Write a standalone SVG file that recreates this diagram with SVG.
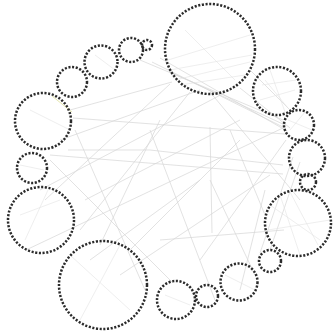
<svg xmlns="http://www.w3.org/2000/svg" width="335" height="332" viewBox="0 0 335 332">
<style>
.e{stroke:#d6d6d6;stroke-width:0.7;fill:none}
.i{stroke:#e2e2e2;stroke-width:0.6;fill:none}
.c{fill:none;stroke:#2b2b2b;stroke-width:2.5;stroke-dasharray:2.1 1.6}
</style>
<rect width="335" height="332" fill="#ffffff"/>
<g id="connectors">
<path class="e" d="M152,62L285,128M160,58L287,131M170,72L285,125M240,88L290,128M50,155L283,174M70,110L172,82M60,140L200,90M45,200L170,84M73,118L285,134M50,160L173,283M210,127L212,233M293,157L260,253M300,162L270,250M26,250L285,127M90,260L200,180M130,250L240,140M210,180L255,275M100,245L160,120M75,130L145,290M190,92L80,230M210,92L300,200M250,70L290,110M230,130L265,215M140,60L283,120M68,150L150,150L283,165M120,275L270,175M160,240L284,230M200,260L286,140M40,190L230,90M240,290L265,190M150,130L215,300M85,200L240,120"/>
<path class="i" d="M168,60L250,35M170,70L252,55M175,80L250,62M180,85L245,75M185,30L235,80M262,85L296,80M265,80L288,108M260,100L295,90M270,70L285,112M270,205L320,240M268,230L330,220M280,195L300,255M290,192L318,245M70,255L130,310M80,320L120,245M20,215L60,200M25,240L48,190M288,120L312,130M290,130L305,112M225,275L255,290M165,295L190,305M30,110L70,130M20,165L44,170M95,55L115,70"/>
<path d="M52,96L72,112" stroke="#e6e8b0" stroke-width="1" fill="none"/>
</g>
<g id="n1"><circle class="c" cx="210" cy="49" r="45"/></g>
<g id="n2"><circle class="c" cx="131" cy="50" r="12"/></g>
<g id="n3"><circle class="c" cx="147" cy="45" r="5"/></g>
<g id="n4"><circle class="c" cx="101" cy="62" r="16.5"/></g>
<g id="n5"><circle class="c" cx="72" cy="82" r="15"/></g>
<g id="n6"><circle class="c" cx="43" cy="121" r="28"/></g>
<g id="n7"><circle class="c" cx="32" cy="168" r="15"/></g>
<g id="n8"><circle class="c" cx="41" cy="220" r="33"/></g>
<g id="n9"><circle class="c" cx="103" cy="285" r="44"/></g>
<g id="n10"><circle class="c" cx="176" cy="300" r="19"/></g>
<g id="n11"><circle class="c" cx="207" cy="296" r="11"/></g>
<g id="n12"><circle class="c" cx="239" cy="282" r="18.5"/></g>
<g id="n13"><circle class="c" cx="270" cy="261" r="11"/></g>
<g id="n14"><circle class="c" cx="298" cy="223" r="33"/></g>
<g id="n15"><circle class="c" cx="308" cy="182" r="8"/></g>
<g id="n16"><circle class="c" cx="307" cy="158" r="18"/></g>
<g id="n17"><circle class="c" cx="299" cy="125" r="15"/></g>
<g id="n18"><circle class="c" cx="277" cy="91" r="24"/></g>
</svg>
